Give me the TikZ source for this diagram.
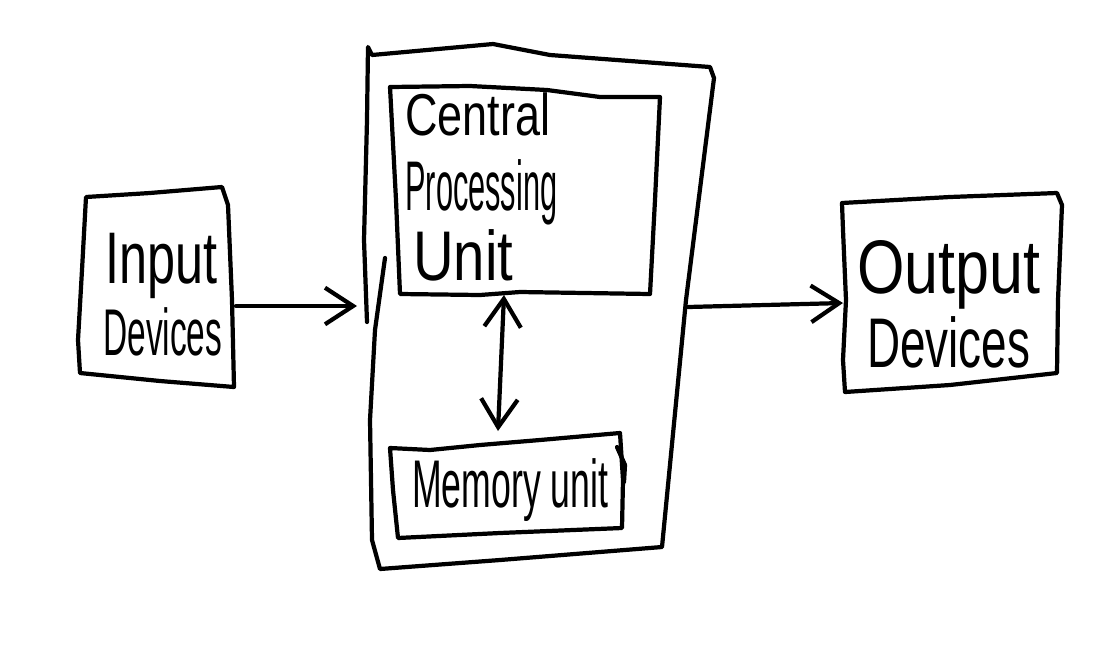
\documentclass[tikz,border=0pt]{standalone}
\usepackage{fontspec}
\setmainfont{Liberation Sans}
\usetikzlibrary{arrows.meta}
\newcommand\hwtext[3]{\resizebox{#1}{\height}{\fontsize{#2}{#2}\selectfont #3}}
\begin{document}
\begin{tikzpicture}[x=0.025cm,y=-0.025cm,
  ink/.style={line width=3pt,line join=round,line cap=round},
  lbl/.style={inner sep=0pt,anchor=base west},
  conn/.style={ink,-{Straight Barb[length=20pt,width=26pt,line width=3pt]}},
  dconn/.style={ink,{Straight Barb[length=20pt,width=26pt,line width=3pt]}-{Straight Barb[length=20pt,width=26pt,line width=3pt]}}]
\useasboundingbox[fill=white] (0,0) rectangle (1100,660);

% Input Devices box
\draw[ink] (86,197) -- (150,193) -- (222,187) -- (228,205) -- (232,300) -- (234,387)
  -- (160,381) -- (80,373) -- (78,340) -- (82,270) -- cycle;
\node[lbl] (tin1) at (105,283) {\hwtext{2.8cm}{52pt}{Input}};
\node[lbl] (tin2) at (103,355) {\hwtext{2.975cm}{47pt}{Devices}};

% Main (computer) box
\draw[ink] (367,322) -- (364,240) -- (367,120) -- (368,47) -- (372,55) -- (493,44)
  -- (550,55) -- (710,67) -- (714,78) -- (686,300) -- (662,547) -- (500,560)
  -- (380,569) -- (372,540) -- (370,420) -- (375,330) -- (385,258);

% CPU box
\draw[ink] (390,87) -- (470,86) -- (547,90) -- (600,97) -- (660,97) -- (655,200)
  -- (650,294) -- (520,292) -- (480,295) -- (400,294) -- (396,200) -- cycle;
\node[lbl] (tc1) at (405,135) {\hwtext{3.625cm}{42pt}{Central}};
\node[lbl] (tc2) at (405,210) {\hwtext{3.8cm}{50pt}{Processing}};
\node[lbl] (tc3) at (413,280) {\hwtext{2.5cm}{50pt}{Unit}};

% Memory box
\draw[ink] (390,448) -- (430,450) -- (480,445) -- (540,440) -- (620,433) -- (623,480)
  -- (622,528) -- (500,533) -- (398,538) -- (393,490) -- cycle;
\draw[ink] (617,447) -- (625,465) -- (624,482);
\node[lbl] (tm) at (412,507) {\hwtext{4.9cm}{48pt}{Memory unit}};

% Output Devices box
\draw[ink] (842,203) -- (950,197) -- (1057,193) -- (1062,205) -- (1058,300) -- (1057,373)
  -- (950,385) -- (845,392) -- (843,360) -- (846,300) -- (843,230) -- cycle;
\node[lbl] (to1) at (857,293) {\hwtext{4.575cm}{54pt}{Output}};
\node[lbl] (to2) at (867,367) {\hwtext{4.075cm}{50pt}{Devices}};

% connector endpoints
\coordinate (inR) at (236,306);
\coordinate (mainL) at (357,306);
\coordinate (mainR) at (688,307);
\coordinate (outL) at (843,303);
\coordinate (cpuB) at (504,295);
\coordinate (memT) at (498,431);

\draw[conn] (inR) -- (mainL);
\draw[conn] (mainR) -- (outL);
\draw[dconn] (cpuB) -- (memT);
\end{tikzpicture}
\end{document}
